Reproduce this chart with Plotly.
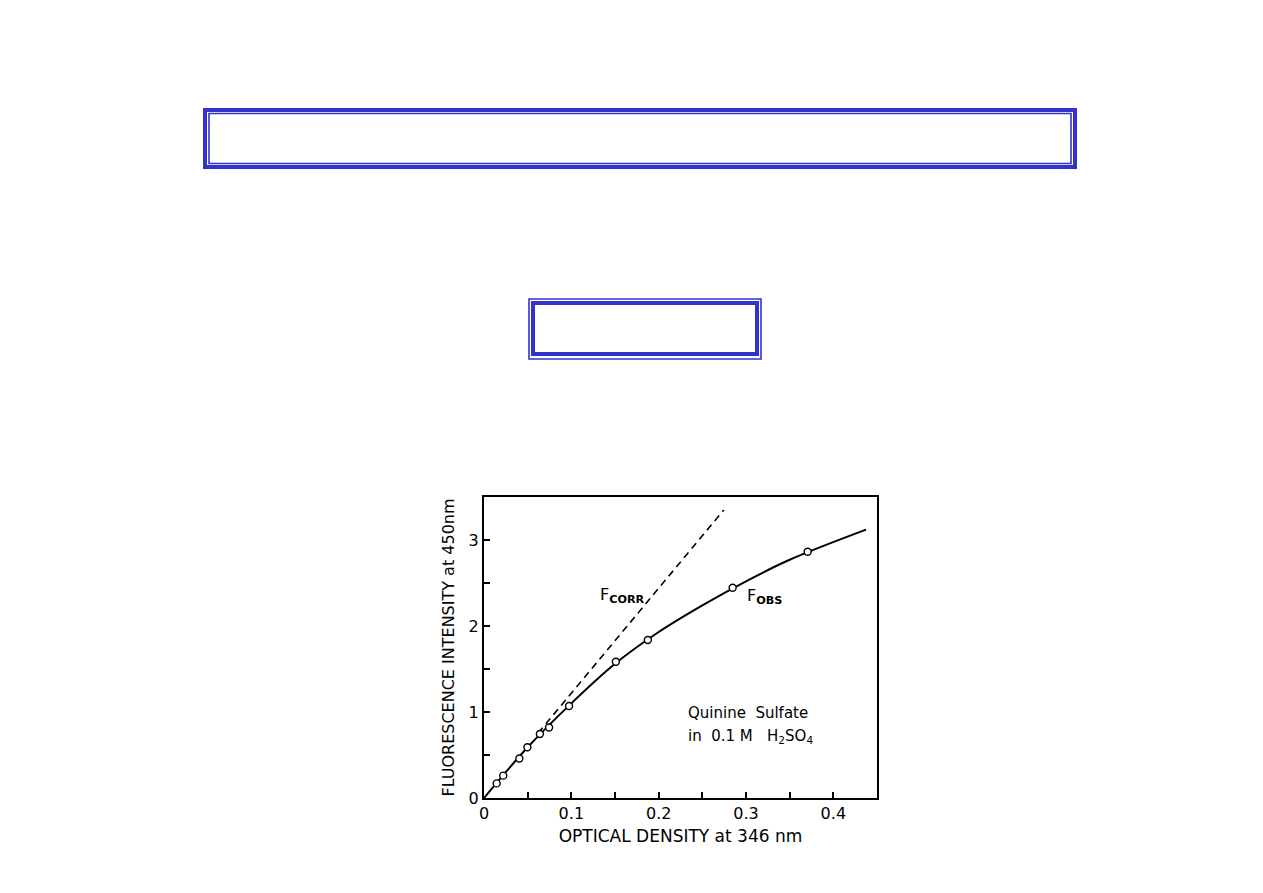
import plotly.graph_objects as go

# Measured data points (F_obs)
od_points = [0.0145, 0.022, 0.0405, 0.0497, 0.064, 0.0745, 0.0974, 0.151, 0.1876, 0.2847, 0.3706]
f_points = [0.17, 0.26, 0.46, 0.59, 0.744, 0.82, 1.07, 1.585, 1.837, 2.445, 2.864]

# Smooth observed curve
od_curve = [0.0, 0.05, 0.1, 0.15, 0.2, 0.25, 0.3, 0.35, 0.4375]
f_curve = [0.0, 0.59, 1.10, 1.56, 1.93, 2.24, 2.52, 2.77, 3.12]

# Corrected (linear) line
od_corr = [0.062, 0.2746]
f_corr = [0.755, 3.35]

x_ticks = [0, 0.1, 0.2, 0.3, 0.4]
x_tick_labels = ["0", "0.1", "0.2", "0.3", "0.4"]
y_ticks = [0, 1, 2, 3]
y_tick_labels = ["0", "1", "2", "3"]

FONT = "DejaVu Sans"
BLUE = "rgb(51,51,204)"

OFF = 8  # page body margin
W, H = 1263 - 2 * OFF, 893 - 2 * OFF
# plot area in screen pixels
SL, SR, ST, SB = 484, 877, 497, 798
L, R, T, B = SL - OFF, SR - OFF, ST - OFF, SB - OFF


def px(x):
    return (x - SL) / (SR - SL)


def py(y):
    return (SB - y) / (SB - ST)


fig = go.Figure()
fig.add_trace(go.Scatter(x=od_corr, y=f_corr, mode="lines",
                         line=dict(color="black", width=1.6, dash="7px,5px"),
                         showlegend=False, hoverinfo="skip"))
fig.add_trace(go.Scatter(x=od_curve, y=f_curve, mode="lines", line_shape="spline",
                         line=dict(color="black", width=2, smoothing=1.0),
                         showlegend=False, hoverinfo="skip"))
fig.add_trace(go.Scatter(x=od_points, y=f_points, mode="markers",
                         marker=dict(symbol="circle", size=7, color="white",
                                     line=dict(color="black", width=1.4)),
                         showlegend=False))

shapes = []
# Box 1: thick outer, thin inner
shapes.append(dict(type="rect", xref="paper", yref="paper",
                   x0=px(205), x1=px(1075), y0=py(110), y1=py(167),
                   line=dict(color=BLUE, width=4)))
shapes.append(dict(type="rect", xref="paper", yref="paper",
                   x0=px(209), x1=px(1071), y0=py(113.5), y1=py(163.5),
                   line=dict(color=BLUE, width=1.6)))
# Box 2: thin outer, thick inner
shapes.append(dict(type="rect", xref="paper", yref="paper",
                   x0=px(529), x1=px(761), y0=py(299), y1=py(359),
                   line=dict(color=BLUE, width=1.6)))
shapes.append(dict(type="rect", xref="paper", yref="paper",
                   x0=px(533), x1=px(757), y0=py(303), y1=py(354),
                   line=dict(color=BLUE, width=4)))

annotations = [
    dict(x=0.1307, y=2.36, xref="x", yref="y", xanchor="left", yanchor="middle",
         text="F<sub><b>CORR</b></sub>", showarrow=False,
         font=dict(family=FONT, size=16, color="black")),
    dict(x=0.299, y=2.34, xref="x", yref="y", xanchor="left", yanchor="middle",
         text="F<sub><b>OBS</b></sub>", showarrow=False,
         font=dict(family=FONT, size=16, color="black")),
    dict(x=0.2315, y=0.99, xref="x", yref="y", xanchor="left", yanchor="middle",
         text="Quinine\u00a0\u00a0Sulfate", showarrow=False,
         font=dict(family=FONT, size=15, color="black")),
    dict(x=0.2315, y=0.71, xref="x", yref="y", xanchor="left", yanchor="middle",
         text="in\u00a0\u00a00.1\u00a0M\u00a0\u00a0\u00a0H<sub>2</sub>SO<sub>4</sub>", showarrow=False,
         font=dict(family=FONT, size=15, color="black")),
]

fig.update_layout(
    width=W, height=H,
    margin=dict(l=L, r=W - R, t=T, b=H - B, pad=0),
    paper_bgcolor="white", plot_bgcolor="white",
    shapes=shapes, annotations=annotations,
    xaxis=dict(range=[0, 0.45], tickvals=x_ticks, ticktext=x_tick_labels,
               ticks="inside", ticklen=6, tickwidth=1.5, tickcolor="black",
               minor=dict(dtick=0.05, tick0=0, ticks="inside", ticklen=6, tickwidth=1.5, tickcolor="black"),
               showline=True, linecolor="black", linewidth=2, mirror=True,
               showgrid=False, zeroline=False,
               tickfont=dict(family=FONT, size=16, color="black"),
               title=dict(text="OPTICAL DENSITY at 346 nm", standoff=8,
                          font=dict(family=FONT, size=17, color="black"))),
    yaxis=dict(range=[0, 3.5], tickvals=y_ticks, ticktext=y_tick_labels,
               ticks="inside", ticklen=6, tickwidth=1.5, tickcolor="black",
               minor=dict(dtick=0.5, tick0=0, ticks="inside", ticklen=6, tickwidth=1.5, tickcolor="black"),
               showline=True, linecolor="black", linewidth=2, mirror=True,
               showgrid=False, zeroline=False,
               tickfont=dict(family=FONT, size=16, color="black"),
               title=dict(text="FLUORESCENCE INTENSITY at 450nm", standoff=10,
                          font=dict(family=FONT, size=16, color="black"))),
)

fig.write_html("out.html")
